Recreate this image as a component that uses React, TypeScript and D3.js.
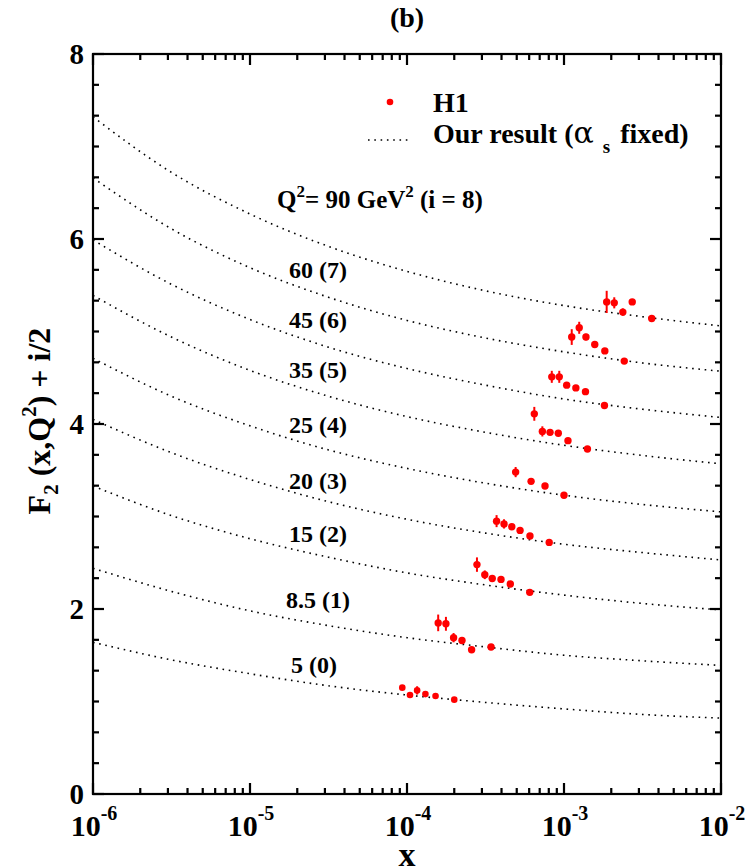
import { useEffect, useRef } from 'react'
import * as d3 from 'd3'

// x grid of the model curves (half decades)
const curveX = [1e-6, 3.16e-6, 1e-5, 3.16e-5, 1e-4, 3.16e-4, 1e-3, 3.16e-3, 1e-2]

// "Our result (alpha_s fixed)", F2 + i/2, i = 0..8
const curveY = [
  [1.64, 1.45, 1.3, 1.17, 1.07, 0.99, 0.92, 0.86, 0.82],
  [2.44, 2.19, 1.98, 1.82, 1.69, 1.59, 1.5, 1.44, 1.39],
  [3.33, 3.01, 2.76, 2.56, 2.39, 2.26, 2.15, 2.06, 1.99],
  [4.05, 3.69, 3.4, 3.16, 2.97, 2.82, 2.7, 2.61, 2.53],
  [4.71, 4.3, 3.98, 3.72, 3.52, 3.36, 3.23, 3.13, 3.05],
  [5.39, 4.94, 4.58, 4.3, 4.08, 3.91, 3.77, 3.66, 3.57],
  [5.99, 5.51, 5.13, 4.83, 4.6, 4.42, 4.27, 4.16, 4.07],
  [6.66, 6.11, 5.69, 5.37, 5.12, 4.93, 4.78, 4.66, 4.57],
  [7.32, 6.72, 6.27, 5.92, 5.65, 5.44, 5.28, 5.16, 5.06],
]

const curveLabels = ['5 (0)', '8.5 (1)', '15 (2)', '20 (3)', '25 (4)', '35 (5)', '45 (6)', '60 (7)']

// H1 data
const h1X = [
  [9.33e-5, 1.045e-4, 1.16e-4, 1.31e-4, 1.52e-4, 2.0e-4],
  [1.58e-4, 1.77e-4, 1.98e-4, 2.24e-4, 2.58e-4, 3.43e-4],
  [2.79e-4, 3.13e-4, 3.49e-4, 3.97e-4, 4.55e-4, 6.05e-4],
  [3.72e-4, 4.15e-4, 4.65e-4, 5.25e-4, 6.07e-4, 8.05e-4],
  [4.92e-4, 6.17e-4, 7.57e-4, 1.0e-3],
  [6.47e-4, 7.28e-4, 8.15e-4, 9.2e-4, 1.06e-3, 1.41e-3],
  [8.36e-4, 9.33e-4, 1.04e-3, 1.19e-3, 1.37e-3, 1.81e-3],
  [1.12e-3, 1.25e-3, 1.38e-3, 1.57e-3, 1.82e-3, 2.42e-3],
  [1.87e-3, 2.09e-3, 2.37e-3, 2.72e-3, 3.62e-3],
]
const h1Y = [
  [1.15, 1.07, 1.12, 1.08, 1.06, 1.02],
  [1.85, 1.84, 1.69, 1.66, 1.56, 1.59],
  [2.48, 2.37, 2.33, 2.32, 2.27, 2.18],
  [2.95, 2.92, 2.89, 2.85, 2.79, 2.72],
  [3.48, 3.38, 3.33, 3.23],
  [4.11, 3.92, 3.91, 3.9, 3.82, 3.73],
  [4.51, 4.51, 4.42, 4.39, 4.35, 4.2],
  [4.94, 5.04, 4.94, 4.86, 4.79, 4.68],
  [5.32, 5.31, 5.21, 5.32, 5.14],
]
const h1Err = [
  [0.02, 0.02, 0.045, 0.02, 0.02, 0.02],
  [0.09, 0.075, 0.05, 0.036, 0.02, 0.02],
  [0.078, 0.047, 0.02, 0.02, 0.02, 0.02],
  [0.065, 0.05, 0.02, 0.02, 0.02, 0.02],
  [0.055, 0.02, 0.02, 0.02],
  [0.075, 0.055, 0.02, 0.02, 0.02, 0.02],
  [0.065, 0.065, 0.02, 0.02, 0.02, 0.02],
  [0.085, 0.065, 0.035, 0.02, 0.02, 0.02],
  [0.12, 0.06, 0.04, 0.02, 0.02],
]

const xMajor = [1e-6, 1e-5, 1e-4, 1e-3, 1e-2]
const xExp = ['-6', '-5', '-4', '-3', '-2']
const yMajor = [0, 2, 4, 6, 8]

const W = 747
const H = 868
const font = '"Liberation Serif", "Times New Roman", serif'

export default function App() {
  const ref = useRef<SVGSVGElement | null>(null)
  useEffect(() => {
    if (!ref.current) return
    const svg = d3.select(ref.current)
    svg.selectAll('*').remove()
    const left = 93
    const right = 721
    const top = 54
    const bottom = 794
    const x = d3.scaleLog().domain([1e-6, 1e-2]).range([left, right])
    const y = d3.scaleLinear().domain([0, 8]).range([bottom, top])

    const xMinor = x.ticks().filter((v) => !xMajor.some((m) => Math.abs(m - v) / m < 1e-6))
    const yMinor = d3.range(0, 24).map((k) => k / 3).filter((v) => Math.abs(v / 2 - Math.round(v / 2)) > 1e-6)

    svg
      .append('rect')
      .attr('x', left)
      .attr('y', top)
      .attr('width', right - left)
      .attr('height', bottom - top)
      .attr('fill', 'none')
      .attr('stroke', '#000')
      .attr('stroke-width', 2.2)

    // inward ticks on all four sides, drawn as small filled bars
    const xt = [...xMajor.map((v) => ({ v, len: 11 })), ...xMinor.map((v) => ({ v, len: 6 }))]
    const yt = [...yMajor.map((v) => ({ v, len: 11 })), ...yMinor.map((v) => ({ v, len: 6 }))]
    const tg = svg.append('g').attr('fill', '#000')
    tg.append('g')
      .selectAll('rect')
      .data(xt)
      .enter()
      .append('rect')
      .attr('x', (d) => x(d.v) - 1.1)
      .attr('y', (d) => bottom - d.len)
      .attr('width', 2.2)
      .attr('height', (d) => d.len)
    tg.append('g')
      .selectAll('rect')
      .data(xt)
      .enter()
      .append('rect')
      .attr('x', (d) => x(d.v) - 1.1)
      .attr('y', top)
      .attr('width', 2.2)
      .attr('height', (d) => d.len)
    tg.append('g')
      .selectAll('rect')
      .data(yt)
      .enter()
      .append('rect')
      .attr('x', left)
      .attr('y', (d) => y(d.v) - 1.1)
      .attr('width', (d) => d.len)
      .attr('height', 2.2)
    tg.append('g')
      .selectAll('rect')
      .data(yt)
      .enter()
      .append('rect')
      .attr('x', (d) => right - d.len)
      .attr('y', (d) => y(d.v) - 1.1)
      .attr('width', (d) => d.len)
      .attr('height', 2.2)

    // model curves
    const line = d3
      .line<number>()
      .x((_, k) => x(curveX[k]))
      .y((d) => y(d))
      .curve(d3.curveMonotoneX)
    svg
      .append('g')
      .selectAll('path')
      .data(curveY)
      .enter()
      .append('path')
      .attr('d', (d) => line(d))
      .attr('fill', 'none')
      .attr('stroke', '#000')
      .attr('stroke-width', 1.6)
      .attr('stroke-dasharray', '1.6 4.7')

    // H1 points
    const pts = h1X.flatMap((xs, i) => xs.map((v, k) => ({ x: v, y: h1Y[i][k], e: h1Err[i][k], i })))
    const gp = svg.append('g')
    gp.selectAll('line')
      .data(pts)
      .enter()
      .append('line')
      .attr('x1', (d) => x(d.x))
      .attr('x2', (d) => x(d.x))
      .attr('y1', (d) => y(d.y + d.e))
      .attr('y2', (d) => y(d.y - d.e))
      .attr('stroke', '#ff0000')
      .attr('stroke-width', 2)
    gp.selectAll('circle')
      .data(pts)
      .enter()
      .append('circle')
      .attr('cx', (d) => x(d.x))
      .attr('cy', (d) => y(d.y))
      .attr('r', (d) => (d.i === 0 ? 3.3 : 3.7))
      .attr('fill', '#ff0000')

    // tick labels
    const tl = svg.append('g').attr('font-family', font).attr('font-weight', 'bold').attr('fill', '#000')
    xMajor.forEach((v, k) => {
      const t = tl.append('text').attr('x', x(v) + 1).attr('y', 836).attr('text-anchor', 'middle').attr('font-size', 30)
      t.append('tspan').text('10')
      t.append('tspan').attr('font-size', 20).attr('dy', -16).text(xExp[k])
    })
    yMajor.forEach((v) => {
      tl.append('text')
        .attr('x', 84)
        .attr('y', y(v) + 10)
        .attr('text-anchor', 'end')
        .attr('font-size', 29)
        .text(String(v))
    })

    // axis titles
    tl.append('text').attr('x', 407).attr('y', 866).attr('text-anchor', 'middle').attr('font-size', 34).text('x')
    const yl = tl
      .append('text')
      .attr('transform', 'translate(50,421) rotate(-90)')
      .attr('text-anchor', 'middle')
      .attr('font-size', 32)
    yl.append('tspan').text('F')
    yl.append('tspan').attr('font-size', 21).attr('dy', 8).text('2')
    yl.append('tspan').attr('dy', -8).text(' (x,Q')
    yl.append('tspan').attr('font-size', 21).attr('dy', -14).text('2')
    yl.append('tspan').attr('dy', 14).text(') + i/2')

    tl.append('text').attr('x', 407).attr('y', 27).attr('text-anchor', 'middle').attr('font-size', 28).text('(b)')

    // legend
    svg.append('circle').attr('cx', 390).attr('cy', 102).attr('r', 3.3).attr('fill', '#ff0000')
    svg
      .append('line')
      .attr('x1', 368)
      .attr('x2', 410)
      .attr('y1', 140)
      .attr('y2', 140)
      .attr('stroke', '#000')
      .attr('stroke-width', 1.6)
      .attr('stroke-dasharray', '1.6 4.7')
    tl.append('text').attr('x', 433).attr('y', 112).attr('font-size', 28).text('H1')
    const lg = tl.append('text').attr('x', 433).attr('y', 143).attr('font-size', 28)
    lg.append('tspan').text('Our result (')
    lg.append('tspan').attr('font-family', '"DejaVu Serif", serif').attr('font-weight', 'normal').attr('font-size', 30).text('\u03b1')
    lg.append('tspan').attr('font-size', 19).attr('dx', 9).attr('dy', 10).text('s')
    lg.append('tspan').attr('dx', 3).attr('dy', -10).text(' fixed)')

    // curve labels
    const q = tl.append('text').attr('x', 277).attr('y', 208).attr('font-size', 25)
    q.append('tspan').text('Q')
    q.append('tspan').attr('font-size', 17).attr('dy', -11).text('2')
    q.append('tspan').attr('dy', 11).text('= 90 GeV')
    q.append('tspan').attr('font-size', 17).attr('dy', -11).text('2')
    q.append('tspan').attr('dy', 11).text(' (i = 8)')
    const labelY = [673, 608, 542, 489, 433, 378, 328, 278]
    curveLabels.forEach((s, k) => {
      tl.append('text')
        .attr('x', k === 0 ? 314 : 318)
        .attr('y', labelY[k])
        .attr('text-anchor', 'middle')
        .attr('font-size', 24)
        .text(s)
    })
  }, [])
  return <svg ref={ref} width={W} height={H} style={{ position: 'absolute', left: 0, top: 0, background: '#fff' }} />
}
